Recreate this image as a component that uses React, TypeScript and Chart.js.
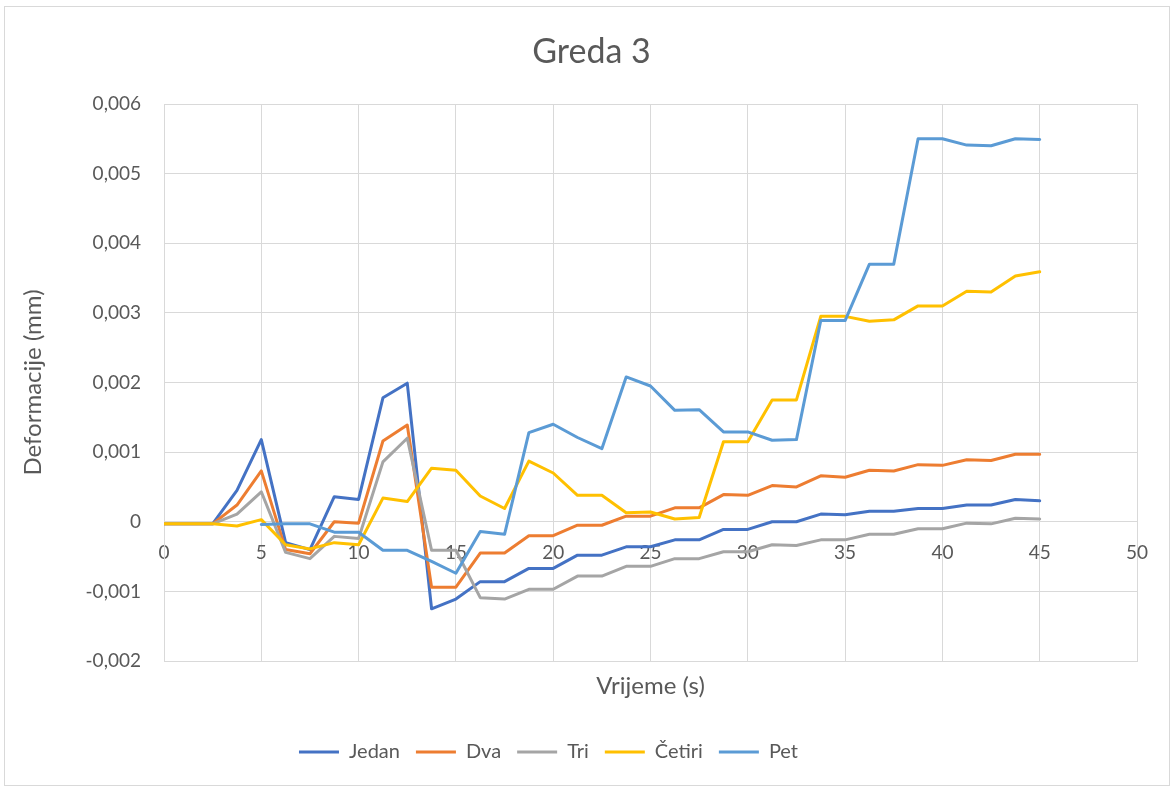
import React, { useEffect, useRef } from 'react';
import { Chart, registerables } from 'chart.js';

Chart.register(...registerables);

const FONT = 'Lato';
const TEXT = '#595959';
const GRID = '#d9d9d9';

const chartTitle = 'Greda 3';
const xAxisTitle = 'Vrijeme (s)';
const yAxisTitle = 'Deformacije (mm)';

const timeSeconds = [
  0, 1.25, 2.5, 3.75, 5, 6.25, 7.5, 8.75, 10, 11.25, 12.5, 13.75, 15, 16.25, 17.5, 18.75, 20,
  21.25, 22.5, 23.75, 25, 26.25, 27.5, 28.75, 30, 31.25, 32.5, 33.75, 35, 36.25, 37.5, 38.75, 40,
  41.25, 42.5, 43.75, 45,
];

const jedan = [
  -0.00003, -0.00003, -0.00003, 0.00045, 0.00118, -0.0003, -0.0004, 0.00036, 0.00032, 0.00178, 0.00199,
  -0.00125, -0.00111, -0.00086, -0.00086, -0.00067, -0.00067, -0.00048, -0.00048, -0.00036, -0.00036,
  -0.00026, -0.00026, -0.00011, -0.00011, 0.0, 0.0, 0.00011, 0.0001, 0.00015, 0.00015, 0.00019, 0.00019,
  0.00024, 0.00024, 0.00032, 0.0003,
];

const dva = [
  -0.00003, -0.00003, -0.00003, 0.00024, 0.00073, -0.0004, -0.00046, 0.0, -0.00002, 0.00116, 0.00139,
  -0.00094, -0.00094, -0.00045, -0.00045, -0.0002, -0.0002, -0.00005, -0.00005, 0.00008, 0.00008,
  0.0002, 0.0002, 0.00039, 0.00038, 0.00052, 0.0005, 0.00066, 0.00064, 0.00074, 0.00073, 0.00082, 0.00081,
  0.00089, 0.00088, 0.00097, 0.00097,
];

const tri = [
  -0.00003, -0.00003, -0.00003, 0.00011, 0.00043, -0.00044, -0.00053, -0.00021, -0.00024, 0.00086, 0.0012,
  -0.00041, -0.00041, -0.00109, -0.00111, -0.00097, -0.00097, -0.00078, -0.00078, -0.00064, -0.00064,
  -0.00053, -0.00053, -0.00043, -0.00043, -0.00033, -0.00034, -0.00026, -0.00026, -0.00018, -0.00018,
  -0.0001, -0.0001, -0.00002, -0.00003, 0.00005, 0.00004,
];

const cetiri = [
  -0.00003, -0.00003, -0.00003, -0.00006, 0.00003, -0.00033, -0.00039, -0.0003, -0.00033, 0.00034, 0.00029,
  0.00077, 0.00074, 0.00037, 0.00019, 0.00087, 0.0007, 0.00038, 0.00038, 0.00013, 0.00014,
  0.00004, 0.00006, 0.00115, 0.00115, 0.00175, 0.00175, 0.00295, 0.00295, 0.00288, 0.0029, 0.0031, 0.0031,
  0.00331, 0.0033, 0.00353, 0.00359,
];

const pet: (number | null)[] = [
  null, null, null, null, -0.00004, -0.00003, -0.00003, -0.00015, -0.00015, -0.00041, -0.00041,
  -0.00057, -0.00074, -0.00014, -0.00018, 0.00128, 0.0014, 0.00121, 0.00105, 0.00208, 0.00195,
  0.0016, 0.00161, 0.00129, 0.00129, 0.00117, 0.00118, 0.00289, 0.00289, 0.0037, 0.0037, 0.0055, 0.0055,
  0.00541, 0.0054, 0.0055, 0.00549,
];

const seriesNames = ['Jedan', 'Dva', 'Tri', 'Četiri', 'Pet'];
const seriesColors = ['#4472C4', '#ED7D31', '#A5A5A5', '#FFC000', '#5B9BD5'];
const seriesValues = [jedan, dva, tri, cetiri, pet];

const yTickLabels = ['-0,002', '-0,001', '0', '0,001', '0,002', '0,003', '0,004', '0,005', '0,006'];
const xTickLabels = ['0', '5', '10', '15', '20', '25', '30', '35', '40', '45', '50'];

const W = 1174;
const H = 789;
const PAD_BOTTOM = 17;
const LEGEND_SHIFT = -20;
const TITLE_SHIFT = 23;

export default function App() {
  const canvasRef = useRef<HTMLCanvasElement | null>(null);

  useEffect(() => {
    const canvas = canvasRef.current;
    if (!canvas) return;

    const datasets = seriesValues.map((vals, si) => ({
      label: seriesNames[si],
      data: timeSeconds
        .map((t, i) => ({ x: t, y: vals[i] }))
        .filter((p) => p.y !== null && p.y !== undefined),
      borderColor: seriesColors[si],
      backgroundColor: seriesColors[si],
      borderWidth: 3,
      pointRadius: 0,
      tension: 0,
      borderJoinStyle: 'round' as const,
      borderCapStyle: 'round' as const,
      order: seriesNames.length - si,
    }));

    const framePlugin = {
      id: 'frame',
      beforeDraw(chart: any) {
        const ctx = chart.ctx;
        ctx.save();
        ctx.fillStyle = '#ffffff';
        ctx.fillRect(0, 0, W, H);
        ctx.strokeStyle = GRID;
        ctx.lineWidth = 1;
        ctx.strokeRect(4.5, 6.5, W - 9, H - 10);
        ctx.restore();
      },
      afterLayout(chart: any) {
        const lg = chart.legend;
        if (lg) {
          lg.left += LEGEND_SHIFT;
          lg.right += LEGEND_SHIFT;
        }
        const tb = chart.titleBlock;
        if (tb) {
          tb.left += TITLE_SHIFT;
          tb.right += TITLE_SHIFT;
        }
      },
    };

    const chart = new Chart(canvas, {
      type: 'line',
      data: { datasets },
      plugins: [framePlugin],
      options: {
        animation: false,
        responsive: false,
        maintainAspectRatio: false,
        devicePixelRatio: 1,
        layout: { padding: { left: 0, right: 37, top: 0, bottom: PAD_BOTTOM } },
        plugins: {
          title: {
            display: true,
            text: chartTitle,
            color: TEXT,
            font: { family: FONT, size: 34, weight: 'normal' },
            padding: { top: 31.6, bottom: 31.6 },
          },
          legend: {
            display: true,
            position: 'bottom',
            labels: {
              color: TEXT,
              font: { family: FONT, size: 20 },
              boxWidth: 40,
              boxHeight: 3,
              padding: 16,
              sort: (a: any, b: any) => a.datasetIndex - b.datasetIndex,
              generateLabels: (c: any) =>
                Chart.defaults.plugins.legend.labels
                  .generateLabels(c)
                  .map((l: any) => ({ ...l, lineWidth: 0 })),
            },
          },
          tooltip: { enabled: false },
        },
        scales: {
          x: {
            type: 'linear',
            position: 'bottom',
            min: 0,
            max: 50,
            ticks: { stepSize: 5, display: false },
            grid: { color: GRID, drawTicks: false, lineWidth: 1 },
            border: { display: true, color: GRID },
            title: {
              display: true,
              text: xAxisTitle,
              color: TEXT,
              font: { family: FONT, size: 24 },
              padding: { top: 0, bottom: 25 },
            },
            afterFit(scale: any) {
              const lg = scale.chart.legend;
              const lgH = lg ? lg.height : 0;
              scale.height = H - PAD_BOTTOM - lgH - 661;
            },
          },
          x2: {
            type: 'linear',
            position: { y: 0 },
            min: 0,
            max: 50,
            ticks: {
              stepSize: 5,
              color: TEXT,
              font: { family: FONT, size: 19 },
              padding: 20,
              callback: (_v: any, i: number) => xTickLabels[i],
            },
            grid: { display: false, drawTicks: false },
            border: { display: true, color: GRID },
          },
          y: {
            type: 'linear',
            min: -0.002,
            max: 0.006,
            ticks: {
              stepSize: 0.001,
              color: TEXT,
              font: { family: FONT, size: 19 },
              padding: 23,
              callback: (_v: any, i: number) => yTickLabels[i],
            },
            grid: { color: GRID, drawTicks: false, lineWidth: 1 },
            border: { display: true, color: GRID },
            title: {
              display: true,
              text: yAxisTitle,
              color: TEXT,
              font: { family: FONT, size: 24 },
              padding: { top: 18.6, bottom: 0 },
            },
            afterFit(scale: any) {
              scale.width = 164;
            },
          },
        },
      } as any,
    });

    return () => chart.destroy();
  }, []);

  return (
    <div style={{ position: 'fixed', left: 0, top: 0, width: W, height: H, background: '#fff' }}>
      <canvas ref={canvasRef} width={W} height={H} style={{ width: W, height: H, display: 'block' }} />
    </div>
  );
}
